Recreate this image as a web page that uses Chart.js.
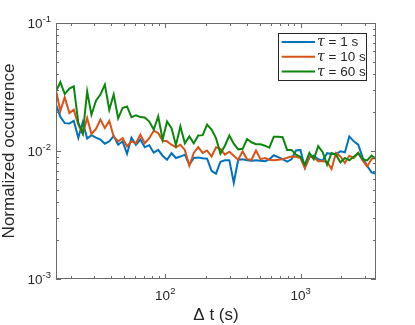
<!DOCTYPE html>
<html>
<head>
<meta charset="utf-8">
<script src="https://cdn.jsdelivr.net/npm/chart.js@4"></script>
<style>body{margin:0;background:#fff}</style>
</head>
<body>
<canvas id="myChart" width="415" height="325"></canvas>
<script>
// time lag (s), log-spaced bins
var deltaT = [15.6,16.8,18.1,19.6,21.1,22.8,24.6,26.5,28.5,30.8,
  33.2,35.8,38.6,41.6,44.9,48.4,52.2,56.3,60.7,65.5,
  70.6,76.2,82.2,88.7,95.6,103.1,111.2,119.9,129.3,139.5,
  150.6,162.4,175.2,188.9,203.7,219.7,237.0,255.6,275.7,297.3,
  320.6,345.7,372.8,402.1,433.7,467.7,504.4,544.0,586.7,632.8,
  682.5,736,794,856,924,996,1074,1159,1250,1348,
  1454,1567,1690,1823,1966,2121,2287,2467,2660,2869,
  3094,3337,3600];

var occ1s = [0.0230,0.0185,0.0165,0.0164,0.0172,0.0127,0.0168,0.0125,0.0133,0.0127,
  0.0123,0.0114,0.0119,0.0131,0.0112,0.0119,0.00952,0.0127,0.0112,0.0123,
  0.0107,0.0111,0.00970,0.0102,0.00919,0.00855,0.00961,0.00882,0.00905,0.00936,
  0.00781,0.00882,0.00891,0.00879,0.00871,0.00700,0.00665,0.00825,0.00845,0.00848,
  0.00565,0.00855,0.00863,0.00848,0.00840,0.00848,0.00840,0.00833,0.00861,0.00927,
  0.00895,0.00863,0.00825,0.00861,0.0101,0.0102,0.00741,0.00887,0.00919,0.00861,
  0.00840,0.00961,0.00947,0.00947,0.00993,0.00975,0.0130,0.0119,0.0112,0.00887,
  0.00767,0.00681,0.00665];

var occ10s = [0.0296,0.0206,0.0262,0.0198,0.0210,0.0161,0.0136,0.0181,0.0136,0.0149,
  0.0176,0.0151,0.0172,0.0130,0.0119,0.0126,0.0109,0.0119,0.0115,0.0134,
  0.0115,0.0126,0.0144,0.0138,0.0120,0.0119,0.0112,0.0107,0.0112,0.0102,
  0.00767,0.00965,0.0107,0.00965,0.0101,0.00905,0.0107,0.0104,0.00936,0.00988,
  0.00919,0.00855,0.00993,0.00863,0.00855,0.0101,0.00863,0.00882,0.00855,0.00848,
  0.00855,0.00863,0.00887,0.00905,0.00903,0.00882,0.00736,0.00903,0.00895,0.00830,
  0.00830,0.00825,0.00723,0.00965,0.00905,0.00806,0.00919,0.00882,0.00965,0.00845,
  0.00758,0.00863,0.00898];

var occ60s = [0.0292,0.0345,0.0278,0.0307,0.0320,0.0166,0.0137,0.0292,0.0192,0.0247,
  0.0276,0.0330,0.0210,0.0276,0.0180,0.0217,0.0223,0.0184,0.0190,0.0184,
  0.0183,0.0170,0.0147,0.0186,0.0123,0.0170,0.0151,0.0111,0.0156,0.0115,
  0.0130,0.0115,0.0132,0.0133,0.0161,0.0147,0.0126,0.00952,0.0110,0.0132,
  0.0114,0.0103,0.0104,0.0124,0.0117,0.0113,0.0113,0.0110,0.0106,0.0129,
  0.0129,0.0128,0.0102,0.0102,0.00936,0.00898,0.00781,0.00965,0.00861,0.0109,
  0.00979,0.00781,0.00965,0.00936,0.00814,0.00882,0.00845,0.00903,0.00965,0.00863,
  0.00845,0.00919,0.00863];

var seriesLabels = ['\u03c4 = 1 s', '\u03c4 = 10 s', '\u03c4 = 60 s'];
var seriesColors = ['#0072bd', '#d95319', '#0b870b'];

var xTicks = [100, 1000];
var xTickExp = ['2', '3'];
var yTicks = [0.001, 0.01, 0.1];
var yTickExp = ['-3', '-2', '-1'];

var axisColor = '#262626';
var boxColor = '#6a6a6a';
var fontFam = '"Liberation Sans", Arial, Helvetica, sans-serif';

function pts(ys) {
  return ys.map(function (y, i) { return {x: deltaT[i], y: y}; });
}

function drawPow(c, exp, x, y, align) {
  c.font = '13.5px ' + fontFam;
  var wb = c.measureText('10').width;
  c.font = '9.5px ' + fontFam;
  var we = c.measureText(exp).width;
  var x0 = align === 'right' ? x - wb - we : x - (wb + we) / 2;
  c.textAlign = 'left';
  c.textBaseline = 'alphabetic';
  c.font = '13.5px ' + fontFam;
  c.fillText('10', x0, y);
  c.font = '9.5px ' + fontFam;
  c.fillText(exp, x0 + wb, y - 6);
}

// matlab style box, inward ticks, labels and legend
var boxAxes = {
  id: 'boxAxes',
  afterDatasetsDraw: function (chart) {
    var c = chart.ctx, a = chart.chartArea;
    var xs = chart.scales.x, ys = chart.scales.y;
    c.save();
    c.strokeStyle = boxColor;
    c.lineWidth = 1;
    c.strokeRect(a.left + 0.5, a.top + 0.5, a.right - a.left - 1, a.bottom - a.top - 1);

    c.beginPath();
    var e, m, v, p, len;
    for (e = 1; e <= 3; e++) {
      for (m = 1; m < 10; m++) {
        v = m * Math.pow(10, e);
        if (v < xs.min || v > xs.max) continue;
        p = Math.round(xs.getPixelForValue(v)) + 0.5;
        len = m === 1 ? 5 : 3;
        c.moveTo(p, a.bottom); c.lineTo(p, a.bottom - len);
        c.moveTo(p, a.top); c.lineTo(p, a.top + len);
      }
    }
    for (e = -3; e <= -1; e++) {
      for (m = 1; m < 10; m++) {
        v = m * Math.pow(10, e);
        if (v < ys.min * 0.999 || v > ys.max * 1.001) continue;
        p = Math.round(ys.getPixelForValue(v)) + 0.5;
        len = m === 1 ? 5 : 3;
        c.moveTo(a.left, p); c.lineTo(a.left + len, p);
        c.moveTo(a.right, p); c.lineTo(a.right - len, p);
      }
    }
    c.stroke();

    c.fillStyle = axisColor;
    xTicks.forEach(function (t, i) {
      drawPow(c, xTickExp[i], xs.getPixelForValue(t), a.bottom + 21, 'center');
    });
    yTicks.forEach(function (t, i) {
      drawPow(c, yTickExp[i], a.left - 5, ys.getPixelForValue(t) + 5, 'right');
    });

    // axis titles
    c.font = '17px ' + fontFam;
    c.textAlign = 'center';
    c.textBaseline = 'alphabetic';
    c.fillText('\u0394 t (s)', (a.left + a.right) / 2, 320);
    c.save();
    c.translate(14, (a.top + a.bottom) / 2);
    c.rotate(-Math.PI / 2);
    c.fillText('Normalized occurrence', 0, 0);
    c.restore();

    // legend
    var lx = 278.5, ly = 33.5, lw = 88, lh = 47;
    c.fillStyle = '#fff';
    c.fillRect(lx, ly, lw, lh);
    c.strokeStyle = axisColor;
    c.strokeRect(lx, ly, lw, lh);
    c.textAlign = 'left';
    c.textBaseline = 'middle';
    chart.data.datasets.forEach(function (ds, i) {
      var yy = 42 + i * 14.7;
      c.strokeStyle = ds.borderColor;
      c.lineWidth = 2;
      c.beginPath();
      c.moveTo(281.7, yy); c.lineTo(315, yy);
      c.stroke();
      c.fillStyle = axisColor;
      var sym = ds.label.charAt(0), rest = ds.label.slice(1);
      c.font = 'italic 14px "DejaVu Serif", serif';
      c.fillText(sym, 317, yy + 0.5);
      var w = c.measureText(sym).width;
      c.font = '13.5px ' + fontFam;
      c.fillText(rest, 317 + w, yy + 0.5);
    });
    c.restore();
  }
};

var ctx = document.getElementById('myChart').getContext('2d');
var myChart = new Chart(ctx, {
  type: 'line',
  data: {
    datasets: [{
      data: pts(occ1s),
      label: seriesLabels[0],
      borderColor: seriesColors[0],
      borderWidth: 2,
      order: 3
    }, {
      data: pts(occ10s),
      label: seriesLabels[1],
      borderColor: seriesColors[1],
      borderWidth: 2,
      order: 2
    }, {
      data: pts(occ60s),
      label: seriesLabels[2],
      borderColor: seriesColors[2],
      borderWidth: 2,
      order: 1
    }]
  },
  options: {
    responsive: false,
    animation: false,
    layout: {padding: {left: 56, top: 23, right: 39, bottom: 46}},
    elements: {point: {radius: 0}, line: {tension: 0}},
    plugins: {legend: {display: false}, tooltip: {enabled: false}},
    scales: {
      x: {type: 'logarithmic', min: 15.6, max: 3600, display: false},
      y: {type: 'logarithmic', min: 0.001, max: 0.1, display: false}
    }
  },
  plugins: [boxAxes]
});
</script>
</body>
</html>
